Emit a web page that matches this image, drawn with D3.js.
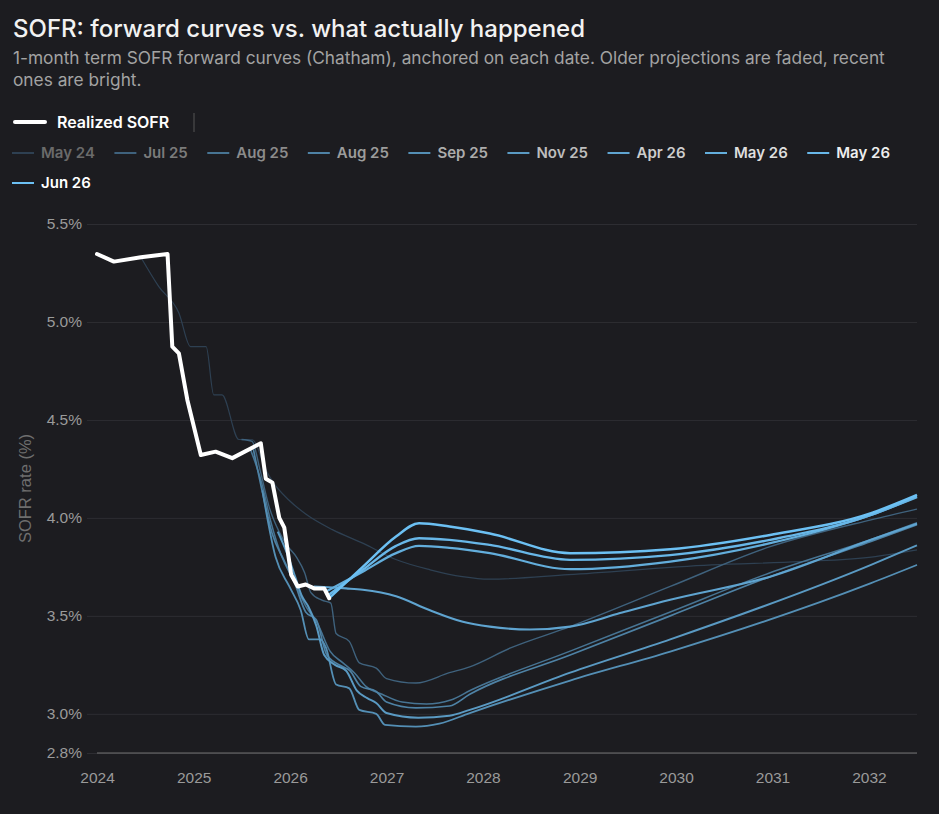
<!DOCTYPE html>
<html>
<head>
<meta charset="utf-8">
<script src="https://cdn.jsdelivr.net/npm/d3@7"></script>
<style>
  html, body { margin: 0; padding: 0; background: #1c1c20; }
  svg { display: block; font-family: Inter, "Noto Sans", sans-serif; }
</style>
</head>
<body>
<script>
// realized 1-month term SOFR, [date, %]
const realizedSofr = [
  ["2024-01-01", 5.347], ["2024-03-05", 5.308], ["2024-06-15", 5.33], ["2024-09-24", 5.347],
  ["2024-10-12", 4.874], ["2024-11-06", 4.84], ["2024-12-08", 4.602], ["2025-01-28", 4.321],
  ["2025-03-25", 4.338], ["2025-05-27", 4.305], ["2025-09-12", 4.381], ["2025-10-01", 4.20],
  ["2025-10-26", 4.18], ["2025-11-21", 4.00], ["2025-12-10", 3.95], ["2026-01-05", 3.71],
  ["2026-01-30", 3.65], ["2026-03-01", 3.66], ["2026-04-02", 3.64], ["2026-05-10", 3.64],
  ["2026-05-29", 3.59]
];

// forward curves, one array per anchor date
const fwdMay24 = [
  ["2024-06-15", 5.33], ["2024-08-22", 5.18], ["2024-11-06", 5.046], ["2024-12-20", 4.874],
  ["2025-02-17", 4.874], ["2025-03-18", 4.628], ["2025-04-18", 4.628], ["2025-06-21", 4.40],
  ["2025-08-12", 4.398], ["2025-10-01", 4.245], ["2025-10-27", 4.185], ["2025-12-28", 4.09],
  ["2026-03-01", 4.02], ["2026-06-10", 3.94], ["2026-10-05", 3.87], ["2027-02-08", 3.786],
  ["2027-06-15", 3.735], ["2027-10-15", 3.70], ["2028-01-25", 3.687], ["2028-11-20", 3.71],
  ["2030-05-15", 3.76], ["2031-04-15", 3.777], ["2032-01-10", 3.80], ["2032-07-01", 3.837]
];
const fwdJul25 = [
  ["2025-07-01", 4.40], ["2025-08-10", 4.39], ["2025-09-10", 4.24], ["2025-10-15", 4.05],
  ["2025-11-20", 3.93], ["2025-12-20", 3.86], ["2026-01-25", 3.80], ["2026-02-25", 3.72],
  ["2026-03-20", 3.62], ["2026-05-01", 3.58], ["2026-06-04", 3.565], ["2026-06-24", 3.41],
  ["2026-08-13", 3.37], ["2026-09-20", 3.26], ["2026-11-23", 3.233], ["2027-01-01", 3.18],
  ["2027-04-22", 3.157], ["2027-08-27", 3.21], ["2027-11-12", 3.24], ["2028-04-12", 3.335],
  ["2028-11-26", 3.445], ["2029-12-10", 3.65], ["2030-12-23", 3.853], ["2032-01-09", 3.99],
  ["2032-07-01", 4.045]
];
const fwdAug25a = [
  ["2025-08-01", 4.36], ["2025-09-15", 4.18], ["2025-10-20", 3.98], ["2025-12-01", 3.80],
  ["2026-01-15", 3.68], ["2026-03-01", 3.55], ["2026-04-15", 3.46], ["2026-06-01", 3.32],
  ["2026-07-20", 3.26], ["2026-09-01", 3.21], ["2026-10-15", 3.14], ["2026-12-15", 3.10],
  ["2027-03-01", 3.06], ["2027-06-01", 3.05], ["2027-09-01", 3.07], ["2027-11-15", 3.12],
  ["2028-11-26", 3.32], ["2029-12-10", 3.52], ["2030-12-23", 3.72], ["2032-01-09", 3.89],
  ["2032-07-01", 3.975]
];
const fwdAug25b = [
  ["2025-08-15", 4.35], ["2025-09-20", 4.12], ["2025-10-25", 3.92], ["2025-12-10", 3.78],
  ["2026-01-20", 3.66], ["2026-03-01", 3.52], ["2026-04-10", 3.48], ["2026-05-20", 3.30],
  ["2026-07-20", 3.24], ["2026-08-15", 3.22], ["2026-09-25", 3.14], ["2026-11-23", 3.114],
  ["2027-01-01", 3.06], ["2027-04-22", 3.03], ["2027-08-27", 3.04], ["2027-11-12", 3.10],
  ["2028-11-26", 3.30], ["2029-12-10", 3.50], ["2030-12-23", 3.70], ["2032-01-09", 3.88],
  ["2032-07-01", 3.965]
];
const fwdSep25 = [
  ["2025-09-18", 4.14], ["2025-11-07", 3.80], ["2025-12-29", 3.65], ["2026-02-10", 3.53],
  ["2026-03-13", 3.38], ["2026-04-26", 3.38], ["2026-05-16", 3.34], ["2026-06-24", 3.15],
  ["2026-08-13", 3.13], ["2026-09-20", 3.02], ["2026-11-23", 3.00], ["2026-12-26", 2.944],
  ["2027-04-22", 2.935], ["2027-07-20", 2.95], ["2027-11-12", 3.004], ["2028-11-26", 3.17],
  ["2029-12-10", 3.318], ["2032-01-09", 3.667], ["2032-07-01", 3.76]
];
const fwdNov25 = [
  ["2025-11-15", 3.93], ["2025-12-20", 3.82], ["2026-01-20", 3.70], ["2026-02-15", 3.60],
  ["2026-03-10", 3.55], ["2026-04-10", 3.45], ["2026-05-10", 3.30], ["2026-06-20", 3.25],
  ["2026-08-01", 3.22], ["2026-09-10", 3.12], ["2026-10-20", 3.08], ["2026-11-23", 3.055],
  ["2027-01-01", 3.004], ["2027-05-01", 2.98], ["2027-08-27", 2.99], ["2027-11-12", 3.02],
  ["2028-11-26", 3.21], ["2029-12-10", 3.38], ["2032-01-09", 3.76], ["2032-07-01", 3.86]
];
const fwdApr26 = [
  ["2026-04-01", 3.65], ["2026-08-01", 3.64], ["2026-10-03", 3.633], ["2027-02-06", 3.60],
  ["2027-06-12", 3.53], ["2027-10-17", 3.47], ["2028-01-27", 3.445], ["2028-06-27", 3.43],
  ["2028-11-26", 3.445], ["2029-06-03", 3.514], ["2029-12-10", 3.582], ["2030-12-23", 3.70],
  ["2032-01-09", 3.888], ["2032-07-01", 3.97]
];
const fwdMay26a = [
  ["2026-05-12", 3.62], ["2026-10-03", 3.725], ["2027-02-06", 3.82], ["2027-05-04", 3.857],
  ["2027-08-27", 3.847], ["2028-01-27", 3.82], ["2028-11-26", 3.738], ["2029-12-10", 3.777],
  ["2030-12-23", 3.871], ["2032-01-09", 4.015], ["2032-07-01", 4.105]
];
const fwdMay26b = [
  ["2026-05-20", 3.60], ["2026-10-03", 3.735], ["2027-02-06", 3.857], ["2027-05-04", 3.896],
  ["2027-08-27", 3.888], ["2028-01-27", 3.862], ["2028-11-26", 3.786], ["2029-12-10", 3.81],
  ["2030-12-23", 3.888], ["2032-01-09", 4.015], ["2032-07-01", 4.11]
];
const fwdJun26 = [
  ["2026-05-29", 3.59], ["2026-10-03", 3.75], ["2027-02-06", 3.905], ["2027-05-04", 3.973],
  ["2027-08-27", 3.956], ["2028-01-27", 3.92], ["2028-11-26", 3.82], ["2029-12-10", 3.84],
  ["2030-12-23", 3.913], ["2032-01-09", 4.024], ["2032-07-01", 4.117]
];

const forwardLabels = ["May 24", "Jul 25", "Aug 25", "Aug 25", "Sep 25", "Nov 25", "Apr 26", "May 26", "May 26", "Jun 26"];
const forwardCurves = [fwdMay24, fwdJul25, fwdAug25a, fwdAug25b, fwdSep25, fwdNov25, fwdApr26, fwdMay26a, fwdMay26b, fwdJun26];
const yTickValues = [2.8, 3.0, 3.5, 4.0, 4.5, 5.0, 5.5];

let margin = null, width = null, height = null;
let svg = null, chart = null;
let x, y = null;

const parseDate = d3.timeParse("%Y-%m-%d");
const fadeColor = d3.interpolateRgb("#2e4052", "#6cc0f3");
const labelColor = d3.interpolateRgb("#6a6a6a", "#ffffff");
// older curves dim, newer ones bright
const fade = i => Math.pow(i / (forwardLabels.length - 1), 0.6);

setupCanvasSize();
appendSvg("body");
appendHeader();
setupScales();
appendAxes();
appendCurves();
appendLegend();

function setupCanvasSize() {
  margin = {top: 224, left: 97, bottom: 61, right: 22};
  width = 939 - margin.left - margin.right;
  height = 814 - margin.top - margin.bottom;
}

function appendSvg(domElement) {
  svg = d3.select(domElement).append("svg")
    .attr("width", 939)
    .attr("height", 814);
  svg.append("rect").attr("width", 939).attr("height", 814).attr("fill", "#1c1c20");
  chart = svg.append("g")
    .attr("transform", `translate(${margin.left}, ${margin.top})`);
}

function appendHeader() {
  svg.append("text")
    .attr("x", 13).attr("y", 37)
    .attr("fill", "#f2f2f2")
    .attr("font-size", 24).attr("font-weight", 500)
    .text("SOFR: forward curves vs. what actually happened");

  const sub = svg.append("text")
    .attr("fill", "#a3a3a3")
    .attr("font-size", 17.3);
  sub.append("tspan").attr("x", 13).attr("y", 64)
    .text("1-month term SOFR forward curves (Chatham), anchored on each date. Older projections are faded, recent");
  sub.append("tspan").attr("x", 13).attr("y", 86)
    .text("ones are bright.");
}

function setupScales() {
  x = d3.scaleTime()
    .domain([new Date(2024, 0, 1), new Date(2032, 6, 1)])
    .range([0, width]);
  y = d3.scaleLinear()
    .domain([2.8, 5.5])
    .range([height, 0]);
}

function appendAxes() {
  const yAxis = chart.append("g")
    .attr("transform", "translate(-10,0)")
    .call(d3.axisLeft(y)
      .tickValues(yTickValues)
      .tickFormat(d => d.toFixed(1) + "%")
      .tickSize(-(width + 10))
      .tickPadding(5));
  yAxis.select(".domain").remove();
  yAxis.selectAll(".tick line").attr("stroke", "#2d2d32");
  yAxis.selectAll(".tick text")
    .attr("fill", "#9a9a9a")
    .attr("font-size", 15.5)
    .attr("font-family", "'Liberation Sans', Arial, sans-serif");

  // baseline at the bottom of the plot
  chart.append("line")
    .attr("x1", 0).attr("x2", width)
    .attr("y1", y(2.8)).attr("y2", y(2.8))
    .attr("stroke", "#707070");

  const xAxis = chart.append("g")
    .attr("transform", `translate(0, ${height})`)
    .call(d3.axisBottom(x)
      .ticks(d3.timeYear.every(1))
      .tickFormat(d3.timeFormat("%Y"))
      .tickSize(0)
      .tickPadding(19));
  xAxis.select(".domain").remove();
  xAxis.selectAll(".tick text")
    .attr("fill", "#9a9a9a")
    .attr("font-size", 15.5)
    .attr("font-family", "'Liberation Sans', Arial, sans-serif");

  svg.append("text")
    .attr("transform", `translate(31, ${margin.top + height / 2}) rotate(-90)`)
    .attr("text-anchor", "middle")
    .attr("fill", "#6e6e6e")
    .attr("font-size", 16.5)
    .attr("font-family", "'Liberation Sans', Arial, sans-serif")
    .text("SOFR rate (%)");
}

function appendCurves() {
  const line = d3.line()
    .x(d => x(parseDate(d[0])))
    .y(d => y(d[1]))
    .curve(d3.curveMonotoneX);

  chart.append("g").attr("class", "forwards")
    .selectAll("path")
    .data(forwardCurves)
    .enter()
      .append("path")
        .attr("d", line)
        .attr("fill", "none")
        .attr("stroke", (d, i) => fadeColor(fade(i)))
        .attr("stroke-width", (d, i) => 1.2 + 1.3 * Math.pow(fade(i), 1.5))
        .attr("stroke-linejoin", "round");

  const realizedLine = d3.line()
    .x(d => x(parseDate(d[0])))
    .y(d => y(d[1]));

  chart.append("path")
    .datum(realizedSofr)
    .attr("d", realizedLine)
    .attr("fill", "none")
    .attr("stroke", "#ffffff")
    .attr("stroke-width", 4)
    .attr("stroke-linejoin", "round")
    .attr("stroke-linecap", "round");
}

function appendLegend() {
  const legend = svg.append("g").attr("class", "legend");

  legend.append("line")
    .attr("x1", 15).attr("x2", 45).attr("y1", 122).attr("y2", 122)
    .attr("stroke", "#fff").attr("stroke-width", 4).attr("stroke-linecap", "round");
  legend.append("text")
    .attr("x", 57).attr("y", 127.5)
    .attr("fill", "#ffffff").attr("font-size", 16).attr("font-weight", 600)
    .text("Realized SOFR");
  legend.append("line")
    .attr("x1", 194).attr("x2", 194).attr("y1", 113).attr("y2", 132)
    .attr("stroke", "#555");

  // flow the forward-curve entries, wrapping when the row is full
  const n = forwardLabels.length - 1;
  let cx = 12, cy = 153;
  forwardLabels.forEach((label, i) => {
    const item = legend.append("g");
    const t = item.append("text")
      .attr("y", 5)
      .attr("fill", labelColor(i / n))
      .attr("font-size", 15).attr("font-weight", 600)
      .text(label);
    const w = 29 + t.node().getComputedTextLength();
    if (cx + w > 925) { cx = 12; cy += 30; }
    item.attr("transform", `translate(${cx}, ${cy})`);
    item.append("line")
      .attr("x1", 0).attr("x2", 22)
      .attr("stroke", fadeColor(fade(i)))
      .attr("stroke-width", 2);
    t.attr("x", 29);
    cx += w + 19.5;
  });
}
</script>
</body>
</html>
